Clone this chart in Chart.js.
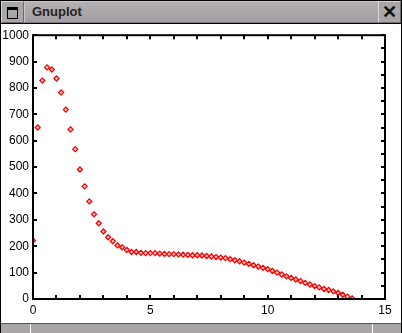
<!DOCTYPE html>
<html>
<head>
<meta charset="utf-8">
<script src="https://cdn.jsdelivr.net/npm/chart.js@4/dist/chart.umd.min.js"></script>
<style>
  body { margin: 0; width: 402px; height: 333px; overflow: hidden; background: #fff; font-family: "Liberation Sans", Arial, sans-serif; }
  #win { position: absolute; left: 0; top: 0; width: 400px; height: 331px; border: 1px solid #000; background: #fff; }
  #titlebar { position: absolute; left: 0; top: 0; width: 400px; height: 22px; background: #a9a5a9; border-bottom: 1px solid #000; }
  .tbtn { position: absolute; top: 0; width: 21px; height: 20px; border: 1px solid #d8d6d8; border-right-color: #6e6a6e; border-bottom-color: #6e6a6e; background: #a9a5a9; }
  #tleft { left: 0; }
  #tright { right: 0; }
  #ttitle { position: absolute; left: 23px; top: 0; border: 1px solid #c8c6c8; border-right-color: #7a767a; border-bottom-color: #7a767a; background: linear-gradient(#b4b0b4, #a19da1); font-weight: bold; font-size: 13px; line-height: 20px; padding-left: 7px; box-sizing: border-box; width: 355px; height: 22px; color: #222; }
  #icon { position: absolute; left: 5px; top: 5px; width: 9px; height: 8px; border: 1px solid #000; border-top-width: 3px; }
  #close { position: absolute; left: 0; top: 0; width: 21px; height: 20px; text-align: center; font-size: 18px; line-height: 20px; font-weight: bold; color: #111; }
  #plot { position: absolute; left: 0; top: 23px; width: 400px; height: 298px; }
  #status { position: absolute; left: 0; top: 322px; width: 400px; height: 9px; background: #a9a5a9; border-top: 1px solid #555; }
  .sdiv { position: absolute; top: 0; width: 1px; height: 9px; background: #fff; }
</style>
</head>
<body>
<div id="win">
  <div id="titlebar">
    <div class="tbtn" id="tleft"><div id="icon"></div></div>
    <div id="ttitle">Gnuplot</div>
    <div class="tbtn" id="tright"><div id="close">✕</div></div>
  </div>
  <div id="plot"><canvas id="chart" width="400" height="298"></canvas></div>
  <div id="status"><div class="sdiv" style="left:29px"></div><div class="sdiv" style="left:371px"></div></div>
</div>
<script>
// sample times and values
var xs = [0.00, 0.20, 0.40, 0.60, 0.80, 1.00, 1.20, 1.40, 1.60, 1.80, 2.00, 2.20, 2.40, 2.60, 2.80, 3.00,
          3.20, 3.40, 3.60, 3.80, 4.00, 4.20, 4.40, 4.60, 4.80, 5.00, 5.20, 5.40, 5.60, 5.80, 6.00, 6.20,
          6.40, 6.60, 6.80, 7.00, 7.20, 7.40, 7.60, 7.80, 8.00, 8.20, 8.40, 8.60, 8.80, 9.00, 9.20, 9.40,
          9.60, 9.80, 10.00, 10.20, 10.40, 10.60, 10.80, 11.00, 11.20, 11.40, 11.60, 11.80, 12.00, 12.20,
          12.40, 12.60, 12.80, 13.00, 13.20, 13.40, 13.60];
var ys = [222, 650, 828, 878, 870, 836, 783, 718, 643, 568, 491, 427, 370, 321, 287, 256,
          234, 219, 203, 196, 186, 178, 178, 175, 174, 174, 174, 172, 171, 170, 170, 169,
          168, 167, 166, 166, 165, 163, 161, 159, 157, 155, 151, 147, 143, 138, 133, 128,
          123, 118, 113, 106, 100, 93, 86, 80, 74, 68, 61, 55, 49, 44, 38, 34,
          29, 23, 16, 9, 2];

var xMin = 0, xMax = 15, yMin = 0, yMax = 1000;

var points = xs.map(function (x, i) { return { x: x, y: ys[i] }; });

// gnuplot style: box border + inward ticks on all four sides
var frameTicks = {
    id: 'frameTicks',
    afterDraw: function (chart) {
        var ctx = chart.ctx;
        var a = chart.chartArea;
        var sx = chart.scales.x, sy = chart.scales.y;
        ctx.save();
        ctx.strokeStyle = '#000';
        ctx.lineWidth = 2;
        ctx.strokeRect(a.left, a.top, a.right - a.left, a.bottom - a.top);
        ctx.beginPath();
        for (var v = xMin; v <= xMax; v += 1) {
            var px = Math.round(sx.getPixelForValue(v));
            ctx.moveTo(px, a.bottom); ctx.lineTo(px, a.bottom - 4);
            ctx.moveTo(px, a.top); ctx.lineTo(px, a.top + 4);
        }
        for (var w = yMin; w <= yMax; w += 100) {
            var py = Math.round(sy.getPixelForValue(w));
            ctx.moveTo(a.left, py); ctx.lineTo(a.left + 4, py);
        }
        for (var u = yMin; u <= yMax; u += 50) {
            var qy = Math.round(sy.getPixelForValue(u));
            ctx.moveTo(a.right, qy); ctx.lineTo(a.right - 4, qy);
        }
        ctx.stroke();
        ctx.restore();
    }
};

var ctx = document.getElementById('chart').getContext('2d');
var chart = new Chart(ctx, {
    type: 'scatter',
    data: {
        datasets: [{
            data: points,
            pointStyle: 'rectRot',
            pointRadius: 2.5,
            borderWidth: 1.3,
            borderColor: '#ff0000',
            backgroundColor: 'rgba(255,180,180,0.6)'
        }]
    },
    options: {
        responsive: false,
        animation: false,
        layout: { padding: { top: 11, right: 16, left: 0, bottom: 0 } },
        plugins: { legend: { display: false }, tooltip: { enabled: false } },
        scales: {
            x: {
                type: 'linear', min: xMin, max: xMax,
                border: { display: false },
                grid: { display: false, drawTicks: false },
                afterFit: function (s) { s.height = 23; },
                ticks: {
                    stepSize: 5, padding: 4, maxRotation: 0,
                    callback: function (v) { return String(v); },
                    color: '#000', font: { family: 'Liberation Sans', size: 12 }
                }
            },
            y: {
                min: yMin, max: yMax,
                border: { display: false },
                grid: { display: false, drawTicks: false },
                afterFit: function (s) { s.width = 32; },
                ticks: {
                    stepSize: 100, padding: 4,
                    callback: function (v) { return String(v); },
                    color: '#000', font: { family: 'Liberation Sans', size: 12 }
                }
            }
        }
    },
    plugins: [frameTicks]
});
</script>
</body>
</html>
